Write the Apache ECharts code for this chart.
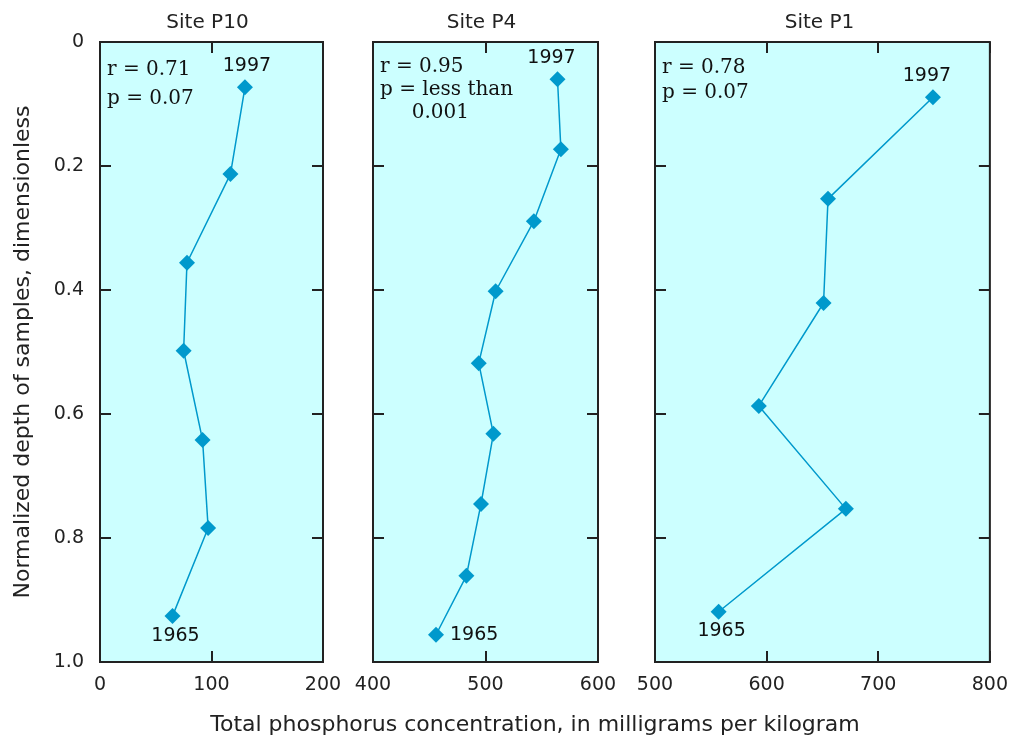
<!DOCTYPE html>
<html>
<head>
<meta charset="utf-8">
<script src="https://cdn.jsdelivr.net/npm/echarts@6/dist/echarts.min.js"></script>
<style>
  html, body { margin: 0; padding: 0; background: #fff; }
  #chart { width: 1011px; height: 740px; }
</style>
</head>
<body>
<div id="chart"></div>
<script>
// site names, left to right
var siteNames = ['Site P10', 'Site P4', 'Site P1']

// total phosphorus (mg/kg) and normalized depth, top (1997) to bottom (1965)
var p10Conc = [130, 117, 78, 75, 92, 97, 65]
var p10Depth = [0.073, 0.213, 0.356, 0.498, 0.642, 0.784, 0.926]
var p4Conc = [564, 567, 543, 509, 494, 507, 496, 483, 456]
var p4Depth = [0.060, 0.173, 0.289, 0.402, 0.518, 0.632, 0.745, 0.861, 0.956]
var p1Conc = [749, 655, 651, 593, 671, 557]
var p1Depth = [0.089, 0.253, 0.421, 0.587, 0.753, 0.919]

// x axis ranges per panel
var xMins = [0, 400, 500]
var xMaxs = [200, 600, 800]

var yearLabels = ['1997', '1965']
var statLines = [
  ['r = 0.71', 'p = 0.07'],
  ['r = 0.95', 'p = less than', '     0.001'],
  ['r = 0.78', 'p = 0.07']
]
var yAxisTitle = 'Normalized depth of samples, dimensionless'
var xAxisTitle = 'Total phosphorus concentration, in milligrams per kilogram'

var concs = [p10Conc, p4Conc, p1Conc]
var depths = [p10Depth, p4Depth, p1Depth]

// layout of the three panels (px)
var panels = [
  { left: 100, width: 223, statLh: 29 },
  { left: 373, width: 225, statLh: 23 },
  { left: 655, width: 337, statLh: 25 }
]
var plotTop = 42
var plotHeight = 620
var lineColor = '#0099cc'
var sansFont = 'DejaVu Sans'
var serifFont = 'DejaVu Serif'

var chart = echarts.init(document.getElementById('chart'))

var grids = []
var xAxes = []
var yAxes = []
var series = []
var graphics = []

function ticks () {
  return { show: true, inside: true, length: 11, lineStyle: { color: '#222', width: 2 } }
}
// the grid border is the frame, so axis lines stay hidden and pinned to their side
function noLine () {
  return { show: false, onZero: false }
}

panels.forEach(function (p, i) {
  grids.push({
    left: p.left,
    width: p.width,
    top: plotTop,
    height: plotHeight,
    show: true,
    backgroundColor: '#ccffff',
    borderColor: '#222',
    borderWidth: 2
  })
  // bottom axis with labels
  xAxes.push({
    type: 'value',
    gridIndex: i,
    position: 'bottom',
    min: xMins[i],
    max: xMaxs[i],
    interval: 100,
    axisLine: noLine(),
    axisTick: ticks(),
    splitLine: { show: false },
    axisLabel: { color: '#222', fontFamily: sansFont, fontSize: 19, margin: 14 }
  })
  // top axis, ticks only
  xAxes.push({
    type: 'value',
    gridIndex: i,
    position: 'top',
    min: xMins[i],
    max: xMaxs[i],
    interval: 100,
    axisLine: noLine(),
    axisTick: ticks(),
    splitLine: { show: false },
    axisLabel: { show: false }
  })
  yAxes.push({
    type: 'value',
    gridIndex: i,
    position: 'left',
    inverse: true,
    min: 0,
    max: 1,
    interval: 0.2,
    axisLine: noLine(),
    axisTick: ticks(),
    splitLine: { show: false },
    axisLabel: {
      show: i === 0,
      color: '#222',
      fontFamily: sansFont,
      fontSize: 19,
      margin: 16,
      formatter: function (v) { return v === 0 ? '0' : v.toFixed(1) }
    },
    name: i === 0 ? yAxisTitle : '',
    nameLocation: 'middle',
    nameGap: 66,
    nameTextStyle: { color: '#222', fontFamily: sansFont, fontSize: 22 }
  })
  yAxes.push({
    type: 'value',
    gridIndex: i,
    position: 'right',
    inverse: true,
    min: 0,
    max: 1,
    interval: 0.2,
    axisLine: noLine(),
    axisTick: ticks(),
    splitLine: { show: false },
    axisLabel: { show: false }
  })

  var n = concs[i].length
  var data = concs[i].map(function (c, k) {
    var item = { value: [c, depths[i][k]] }
    if (k === 0) {
      item.label = { show: true, position: 'top', distance: 4, offset: [i === 0 ? 2 : -6, 0], formatter: yearLabels[0] }
    } else if (k === n - 1) {
      item.label = {
        show: true,
        position: i === 1 ? 'right' : 'bottom',
        distance: i === 1 ? 6 : 2,
        offset: i === 1 ? [0, 0] : [3, 0],
        formatter: yearLabels[1]
      }
    }
    return item
  })
  series.push({
    type: 'line',
    xAxisIndex: i * 2,
    yAxisIndex: i * 2,
    data: data,
    symbol: 'diamond',
    symbolSize: 16,
    showAllSymbol: true,
    itemStyle: { color: lineColor },
    lineStyle: { color: lineColor, width: 1.5 },
    label: { color: '#111', fontFamily: sansFont, fontSize: 19 },
    animation: false
  })

  graphics.push({
    type: 'text',
    x: p.left + p.width / 2 - 4,
    y: 23,
    style: {
      text: siteNames[i],
      fill: '#222',
      font: '20px "' + sansFont + '"',
      textAlign: 'center',
      textVerticalAlign: 'middle'
    }
  })
  graphics.push({
    type: 'text',
    x: p.left + 7,
    y: plotTop + 13,
    style: {
      text: statLines[i].join('\n'),
      fill: '#111',
      font: '20px "' + serifFont + '"',
      lineHeight: p.statLh
    }
  })
})

graphics.push({
  type: 'text',
  x: 535,
  y: 725,
  style: {
    text: xAxisTitle,
    fill: '#222',
    font: '22px "' + sansFont + '"',
    textAlign: 'center',
    textVerticalAlign: 'middle'
  }
})

chart.setOption({
  backgroundColor: '#fff',
  animation: false,
  grid: grids,
  xAxis: xAxes,
  yAxis: yAxes,
  series: series,
  graphic: graphics
})
</script>
</body>
</html>
